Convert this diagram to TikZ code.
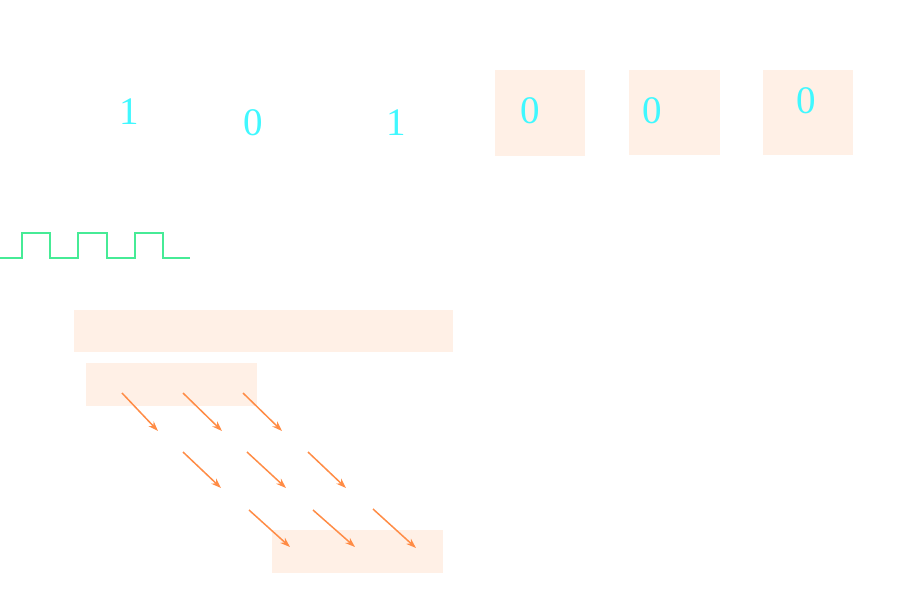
\documentclass[tikz,border=0pt]{standalone}
\usepackage{fontspec}
\setmainfont{Liberation Serif}
\usetikzlibrary{arrows.meta}
\definecolor{digitcol}{RGB}{64,248,255}
\definecolor{boxfill}{RGB}{255,240,230}
\definecolor{wavecol}{RGB}{70,235,150}
\definecolor{arrcol}{RGB}{255,140,70}
\begin{document}
\begin{tikzpicture}[x=1pt,y=-1pt,
  digit/.style={text=digitcol,font=\fontsize{39}{41}\selectfont,inner sep=0pt},
  fbox/.style={fill=boxfill,draw=none,inner sep=0pt,anchor=north west},
  darrow/.style={draw=arrcol,line width=1.5pt,-{Stealth[length=10pt,width=7pt]}}]
\useasboundingbox (0,0) rectangle (901,614);
% faint boxes
\path (495,70) node[fbox,minimum width=90pt,minimum height=86pt] (b1) {};
\path (629,70) node[fbox,minimum width=91pt,minimum height=85pt] (b2) {};
\path (763,70) node[fbox,minimum width=90pt,minimum height=85pt] (b3) {};
\path (74,310) node[fbox,minimum width=379pt,minimum height=42pt] (bar) {};
\path (86,363) node[fbox,minimum width=171pt,minimum height=43pt] (sbox) {};
\path (272,530) node[fbox,minimum width=171pt,minimum height=43pt] (obox) {};
% digits
\node[digit] (d1) at (129,112) {1};
\node[digit] (d2) at (253,123) {0};
\node[digit] (d3) at (396,123) {1};
\node[digit] (d4) at (530,111) {0};
\node[digit] (d5) at (652,111) {0};
\node[digit] (d6) at (806,101) {0};
% square wave
\coordinate (w0) at (0,258);
\coordinate (w1) at (190,258);
\draw[wavecol,line width=2pt]
  (w0) -- (22,258) -- (22,233) -- (50,233) -- (50,258) -- (78,258) -- (78,233)
  -- (107,233) -- (107,258) -- (135,258) -- (135,233) -- (163,233) -- (163,258) -- (w1);
% arrows
\foreach \n/\xa/\ya/\xb/\yb in {
  a1/122/393/158/431, a2/183/393/222/431, a3/243/393/282/431,
  a4/183/452/221/488, a5/247/452/286/488, a6/308/452/346/488,
  a7/249/510/290/547, a8/313/510/355/547, a9/373/509/416/548}{
  \coordinate (\n s) at (\xa,\ya);
  \coordinate (\n e) at (\xb,\yb);
  \draw[darrow] (\n s) -- (\n e);
}
\end{tikzpicture}
\end{document}
